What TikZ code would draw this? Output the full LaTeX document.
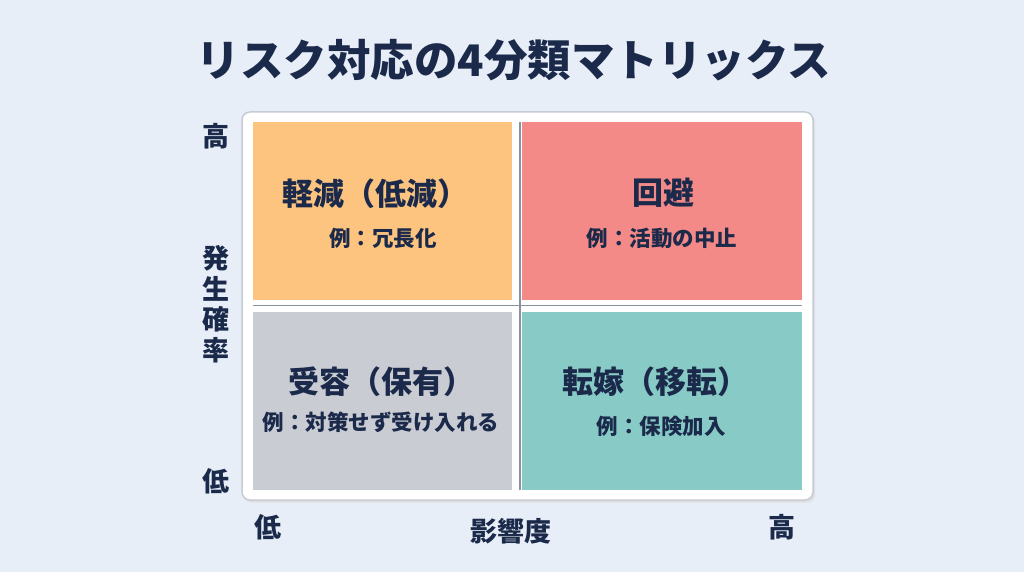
\documentclass[tikz,border=0pt]{standalone}
\usepackage{fontspec}
\setmainfont{Noto Sans CJK JP}
\definecolor{bgc}{HTML}{E7EEF7}
\definecolor{navy}{HTML}{1B2A4A}
\definecolor{qorange}{HTML}{FDC47F}
\definecolor{qred}{HTML}{F48A87}
\definecolor{qgray}{HTML}{CACCD3}
\definecolor{qteal}{HTML}{88CBC6}
\definecolor{panelline}{HTML}{C6CCD5}
\definecolor{gridline}{HTML}{8A929C}
\begin{document}
\begin{tikzpicture}[x=1pt,y=-1pt,
  quad/.style={inner sep=0pt,outer sep=0pt,draw=none,minimum width=259pt,minimum height=178pt},
  qwide/.style={quad,minimum width=280pt},
  qtitle/.style={text=navy,font=\bfseries\fontsize{31}{35}\selectfont,inner sep=0pt},
  qsub/.style={text=navy,font=\bfseries\fontsize{21.5}{24}\selectfont,inner sep=0pt},
  axislabel/.style={text=navy,font=\bfseries\fontsize{27}{30}\selectfont,inner sep=0pt},
  grid/.style={draw=gridline,line width=1.3pt}]
\useasboundingbox (0,0) rectangle (1024,572);
\fill[bgc] (0,0) rectangle (1024,572);
% title
\node[text=navy,font=\bfseries\fontsize{43.5}{48}\selectfont,inner sep=0pt] (title) at (514,60) {リスク対応の4分類マトリックス};
% panel
\fill[black!12,rounded corners=8pt] (243.5,114) rectangle (815,502.5);
\node[draw=panelline,fill=white,line width=1.5pt,rounded corners=8pt,minimum width=571pt,minimum height=388pt,inner sep=0pt] (panel) at (527.5,306) {};
% quadrants
\node[quad,fill=qorange] (q1) at (382.5,211) {};
\node[qwide,fill=qred] (q2) at (662,211) {};
\node[quad,fill=qgray] (q3) at (382.5,400.5) {};
\node[qwide,fill=qteal] (q4) at (662,400.5) {};
% grid lines
\coordinate (hl) at (253,305.5);
\coordinate (hr) at (802,305.5);
\coordinate (vt) at (520,122);
\coordinate (vb) at (520,490);
\draw[grid] (hl) -- (hr);
\draw[grid] (vt) -- (vb);
% quadrant texts
\node[qtitle] (t1) at (375,194) {軽減（低減）};
\node[qsub] (s1) at (383,238) {例：冗長化};
\node[qtitle] (t2) at (663,193) {回避};
\node[qsub] (s2) at (662,238) {例：活動の中止};
\node[qtitle] (t3) at (381,382) {受容（保有）};
\node[qsub] (s3) at (381,422) {例：対策せず受け入れる};
\node[qtitle] (t4) at (655,382) {転嫁（移転）};
\node[qsub] (s4) at (661,426) {例：保険加入};
% axes
\node[axislabel] (yhigh) at (216,136) {高};
\node[axislabel,align=center,font=\bfseries\fontsize{27}{30.5}\selectfont] (ylab) at (216,304) {発\\生\\確\\率};
\node[axislabel] (ylow) at (216,481) {低};
\node[axislabel] (xlow) at (268,527) {低};
\node[axislabel] (xlab) at (511,531) {影響度};
\node[axislabel] (xhigh) at (782,527) {高};
\end{tikzpicture}
\end{document}
